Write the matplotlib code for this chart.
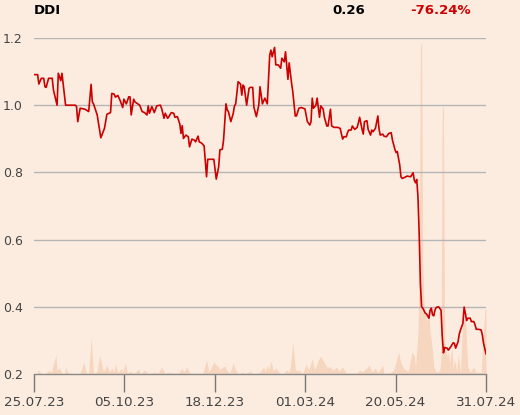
import matplotlib
matplotlib.use('Agg')
import matplotlib.pyplot as plt

# ─── data ──────────────────────────────────────────────────────────────────
# day offset from 25.07.23, closing price
price_days = [
    0, 3, 4, 6, 8, 9, 10, 12, 15, 16,
    19, 20, 22, 23, 26, 30, 34, 35, 36, 38,
    42, 45, 47, 48, 49, 52, 55, 58, 60, 63,
    64, 66, 67, 69, 71, 73, 74, 76, 78, 79,
    80, 82, 83, 87, 89, 91, 93, 94, 95, 97,
    99, 101, 104, 105, 107, 108, 110, 111, 113, 115,
    116, 118, 120, 121, 122, 123, 125, 127, 128, 130,
    132, 133, 135, 136, 138, 140, 142, 143, 146, 148,
    150, 152, 153, 155, 156, 158, 159, 160, 162, 164,
    165, 166, 168, 170, 171, 172, 173, 175, 177, 178,
    180, 181, 183, 185, 186, 188, 190, 192, 194, 195,
    196, 198, 199, 201, 203, 204, 206, 207, 209, 210,
    212, 213, 215, 216, 218, 220, 223, 225, 227, 228,
    229, 230, 232, 233, 235, 236, 238, 239, 241, 242,
    244, 245, 247, 250, 252, 254, 255, 257, 258, 259,
    261, 262, 264, 266, 267, 268, 270, 271, 272, 274,
    275, 277, 278, 279, 281, 283, 284, 285, 287, 288,
    290, 292, 294, 295, 297, 298, 299, 301, 302, 303,
    305, 307, 310, 312, 313, 314, 315, 316, 317, 318,
    319, 320, 322, 323, 325, 326, 327, 328, 329, 330,
    331, 333, 335, 336, 337, 338, 340, 341, 343, 345,
    346, 347, 349, 350, 351, 353, 354, 355, 356, 357,
    359, 360, 362, 363, 364, 366, 368, 369, 370, 372,
]
price_close = [
    1.091, 1.091, 1.063, 1.080, 1.080, 1.055, 1.053, 1.080, 1.080, 1.045,
    1.000, 1.095, 1.073, 1.095, 1.000, 1.000, 1.000, 0.996, 0.951, 0.991,
    0.988, 0.981, 1.062, 1.010, 1.004, 0.971, 0.903, 0.931, 0.973, 0.978,
    1.035, 1.033, 1.024, 1.029, 1.013, 0.993, 1.018, 1.004, 1.025, 1.025,
    0.971, 1.018, 1.010, 1.000, 0.981, 0.978, 0.971, 0.998, 0.976, 0.996,
    0.978, 0.998, 1.000, 0.991, 0.961, 0.976, 0.961, 0.966, 0.978, 0.976,
    0.964, 0.966, 0.944, 0.916, 0.939, 0.901, 0.911, 0.906, 0.876, 0.899,
    0.896, 0.891, 0.908, 0.891, 0.887, 0.879, 0.787, 0.839, 0.839, 0.839,
    0.780, 0.817, 0.867, 0.869, 0.896, 1.004, 0.986, 0.981, 0.951, 0.976,
    0.998, 1.004, 1.070, 1.063, 1.030, 1.060, 1.055, 1.000, 1.050, 1.053,
    1.053, 0.994, 0.966, 1.000, 1.055, 1.004, 1.021, 1.004, 1.149, 1.164,
    1.144, 1.172, 1.120, 1.120, 1.110, 1.140, 1.129, 1.159, 1.077, 1.126,
    1.065, 1.040, 0.968, 0.968, 0.991, 0.993, 0.989, 0.951, 0.941, 0.951,
    1.021, 0.991, 1.000, 1.021, 0.964, 0.998, 0.988, 0.964, 0.938, 0.938,
    0.988, 0.938, 0.934, 0.934, 0.931, 0.899, 0.906, 0.906, 0.918, 0.926,
    0.926, 0.938, 0.928, 0.934, 0.948, 0.964, 0.928, 0.914, 0.951, 0.954,
    0.928, 0.911, 0.926, 0.921, 0.931, 0.968, 0.928, 0.911, 0.914, 0.908,
    0.906, 0.916, 0.918, 0.896, 0.869, 0.859, 0.862, 0.822, 0.787, 0.782,
    0.785, 0.789, 0.787, 0.799, 0.777, 0.769, 0.779, 0.728, 0.619, 0.470,
    0.400, 0.396, 0.381, 0.379, 0.366, 0.390, 0.396, 0.376, 0.373, 0.390,
    0.398, 0.400, 0.390, 0.311, 0.263, 0.279, 0.277, 0.271, 0.281, 0.293,
    0.291, 0.277, 0.296, 0.319, 0.331, 0.351, 0.399, 0.381, 0.359, 0.366,
    0.366, 0.356, 0.356, 0.346, 0.333, 0.333, 0.331, 0.316, 0.291, 0.260,
]

# volume (thousand shares)
vol_days = [
    0, 2, 4, 6, 9, 13, 14, 18, 19, 21,
    23, 25, 26, 28, 29, 30, 36, 38, 41, 43,
    45, 47, 49, 50, 52, 54, 57, 58, 60, 62,
    64, 66, 67, 69, 72, 73, 75, 77, 79, 82,
    86, 88, 91, 94, 100, 102, 105, 108, 110, 114,
    119, 122, 123, 126, 128, 135, 139, 142, 144, 148,
    150, 152, 153, 154, 157, 159, 161, 164, 166, 168,
    172, 174, 178, 180, 184, 186, 189, 190, 192, 193,
    195, 197, 199, 202, 205, 208, 210, 211, 213, 215,
    216, 218, 221, 224, 226, 229, 231, 234, 236, 239,
    241, 244, 246, 249, 251, 254, 257, 260, 263, 266,
    268, 270, 273, 276, 278, 281, 283, 287, 288, 293,
    296, 297, 300, 302, 304, 306, 308, 310, 311, 313,
    314, 316, 317, 318, 319, 320, 321, 322, 323, 325,
    326, 328, 329, 331, 332, 334, 335, 336, 337, 338,
    340, 341, 342, 344, 345, 346, 348, 349, 351, 352,
    353, 355, 356, 357, 359, 362, 364, 366, 368, 369,
    371, 372,
]
vol_amount = [
    1, 0, 4, 0.5, 0.5, 4, 0.5, 19, 4, 6,
    1, 0.5, 7, 1, 2, 0, 0.5, 1, 12, 1,
    1, 36, 1, 1, 3, 19, 3, 4, 9, 2,
    6, 2, 10, 1, 6, 2, 11, 1, 3, 0.5,
    5, 0.5, 4, 0.5, 2, 0.5, 7, 0.5, 2, 1,
    1, 6, 2, 7, 1, 0.5, 1, 14, 2, 12,
    9, 7, 4, 6, 8, 3, 0.5, 11, 4, 0.5,
    2, 0.5, 3, 0.5, 1, 2, 7, 3, 9, 4,
    13, 3, 6, 1, 0.5, 4, 2, 8, 32, 6,
    3, 4, 0.5, 10, 4, 15, 4, 14, 18, 11,
    7, 7, 4, 7, 3, 7, 1, 1, 1, 1,
    4, 2, 5, 9, 2, 6, 1, 9, 0.5, 1,
    4, 8, 22, 11, 6, 4, 3, 15, 22, 18,
    7, 43, 110, 330, 330, 110, 70, 63, 53, 60,
    43, 23, 7, 2, 2, 4, 17, 267, 267, 30,
    18, 23, 12, 27, 5, 15, 3, 20, 2, 33,
    53, 57, 33, 7, 2, 7, 1, 2, 1, 23,
    63, 67,
]

tick_labels = ['25.07.23', '05.10.23', '18.12.23', '01.03.24', '20.05.24', '31.07.24']
y_ticks = [0.2, 0.4, 0.6, 0.8, 1.0, 1.2]

name = 'DDI'
last_price = '0.26'
change = '-76.24%'

BG = '#fcece0'
LINE_RED = '#cc0000'
VOL_COLOR = '#f7d6bf'
GRID = '#b5b5b5'
TEXT = '#444444'

fig = plt.figure(figsize=(5.2, 4.15), dpi=100, facecolor=BG)
ax = fig.add_axes([34 / 520, 41 / 415, 452 / 520, 336 / 415])
vol_ax = ax.twinx()
ax.set_zorder(vol_ax.get_zorder() + 1)
ax.patch.set_visible(False)
vol_ax.set_facecolor(BG)

# volume area in the background
vol_ax.fill_between(vol_days, vol_amount, 0, color=VOL_COLOR, linewidth=0)
vol_ax.set_ylim(0, 336)
vol_ax.set_yticks([])
for s in vol_ax.spines.values():
    s.set_visible(False)

# price line
ax.plot(price_days, price_close, color=LINE_RED, linewidth=1.2, zorder=5)
ax.set_xlim(0, 372)
ax.set_ylim(0.2, 1.2)

ax.set_yticks(y_ticks)
ax.set_yticklabels([f'{v:.1f}' for v in y_ticks], fontsize=9, color=TEXT)
ax.tick_params(axis='y', length=0, pad=8)
for v in y_ticks[1:]:
    ax.axhline(v, color=GRID, linewidth=1, zorder=1)

n = len(tick_labels) - 1
ax.set_xticks([372 * i / n for i in range(n + 1)])
ax.set_xticklabels(tick_labels, fontsize=9.7, color=TEXT)
ax.tick_params(axis='x', length=13, width=1, color='#777777', pad=3)

for side in ['top', 'right', 'left']:
    ax.spines[side].set_visible(False)
ax.spines['bottom'].set_color('#888888')
ax.spines['bottom'].set_linewidth(1)

# header
fig.text(34 / 520, 1 - 10 / 415, name, fontsize=9.5, fontweight='bold',
         color='black', va='center', ha='left')
fig.text(332 / 520, 1 - 10 / 415, last_price, fontsize=9.5, fontweight='bold',
         color='black', va='center', ha='left')
fig.text(410 / 520, 1 - 10 / 415, change, fontsize=9.5, fontweight='bold',
         color=LINE_RED, va='center', ha='left')

fig.savefig('out.png', dpi=100, facecolor=BG)
